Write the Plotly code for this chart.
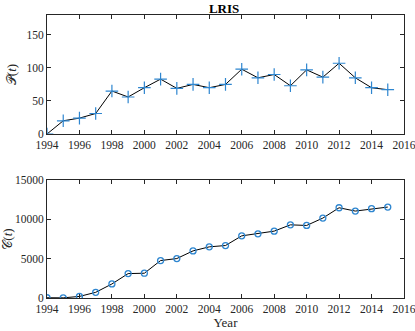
import plotly.graph_objects as go
from plotly.subplots import make_subplots

years = list(range(1994, 2016))
papers = [0, 20, 24, 31, 65, 56, 70, 83, 69, 75, 70, 75,
          98, 85, 90, 73, 97, 86, 107, 85, 70, 67]
citations = [30, 20, 200, 720, 1785, 3100, 3150, 4760, 5015, 5990, 6500, 6670,
             7900, 8160, 8500, 9300, 9220, 10160, 11470, 11050, 11350, 11560]

blue = "#2e86d0"
axis_col = "#262626"
font = dict(family="Liberation Serif", size=11.5, color=axis_col)

fig = make_subplots(rows=2, cols=1)

# top: publications per year
fig.add_trace(go.Scatter(x=years, y=papers, mode="lines+markers",
                         line=dict(color="black", width=1),
                         marker=dict(symbol="cross-thin-open", size=9, color=blue,
                                     line=dict(color=blue, width=1.2))),
              row=1, col=1)

# bottom: citations
fig.add_trace(go.Scatter(x=years, y=citations, mode="lines+markers",
                         line=dict(color="black", width=1),
                         marker=dict(symbol="circle-open", size=6, color=blue,
                                     line=dict(color=blue, width=1.3))),
              row=2, col=1)

axis_style = dict(showline=True, mirror="ticks", linecolor=axis_col, linewidth=0.8,
                  ticks="inside", ticklen=4, tickcolor=axis_col, showgrid=False,
                  zeroline=False, tickfont=font, automargin=False,
                  ticklabeloverflow="allow")

fig.update_xaxes(range=[1994, 2016], dtick=2, **axis_style)
fig.update_yaxes(tickformat="d", **axis_style)
fig.update_yaxes(range=[0, 180], tickvals=[0, 50, 100, 150], row=1, col=1,
                 title=dict(text="𝒫(<i>t</i>)", font=dict(font, size=13), standoff=6))
fig.update_yaxes(range=[0, 15000], tickvals=[0, 5000, 10000, 15000], row=2, col=1,
                 title=dict(text="𝒞(<i>t</i>)", font=dict(font, size=13), standoff=2))
fig.update_xaxes(title=dict(text="Year", font=dict(font, size=13), standoff=2), row=2, col=1)

fig.update_layout(
    width=415, height=331,
    margin=dict(l=47, r=11, t=15, b=33),
    paper_bgcolor="white", plot_bgcolor="white",
    showlegend=False,
    font=font,
    title=dict(text="<b>LRIS</b>", x=0.54, xanchor="center", y=0.975, yanchor="middle",
               font=dict(family="Liberation Serif", size=13, color="black")),
)
fig.layout.yaxis.domain = [0.5795, 1]
fig.layout.yaxis2.domain = [0, 0.417]

# drop the default page margin so the figure sits at the window corner
fig.write_html("out.html", config={"displayModeBar": False},
               post_script="document.body.style.margin='0';")
